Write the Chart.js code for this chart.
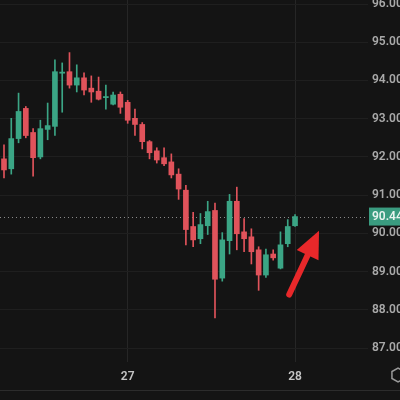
<!DOCTYPE html>
<html>
<head>
<meta charset="utf-8">
<script src="https://cdn.jsdelivr.net/npm/chart.js@4"></script>
<style>
  html, body { margin: 0; padding: 0; background: #141414; }
  #wrap { width: 400px; height: 400px; }
</style>
</head>
<body>
<div id="wrap"><canvas id="myChart" width="400" height="400"></canvas></div>
<script>
// Hourly candles, first one is cut off at the left edge
const startIndex = -1;
const openVals  = [92.08, 91.95, 91.69, 92.48, 93.27, 92.64, 92.00, 92.72, 92.80, 94.19, 94.23, 93.88, 94.07, 93.80, 93.72, 93.55, 93.38, 93.64, 93.43, 93.01, 92.85, 92.40, 92.16, 91.98, 91.87, 91.55, 91.13, 90.18, 89.86, 90.20, 90.60, 88.83, 89.81, 90.84, 90.04, 89.91, 89.57, 88.91, 89.46, 89.09, 89.73, 90.20];
const highVals  = [92.15, 92.32, 93.01, 93.67, 93.32, 92.74, 92.96, 93.41, 94.54, 94.46, 94.73, 94.41, 94.20, 94.12, 94.09, 93.88, 93.70, 93.70, 93.48, 93.25, 92.90, 92.43, 92.24, 92.24, 92.08, 91.69, 91.26, 90.55, 90.52, 90.84, 90.79, 90.02, 91.02, 91.21, 90.39, 90.12, 89.65, 89.59, 89.57, 90.04, 90.36, 90.49];
const lowVals   = [91.85, 91.45, 91.55, 92.37, 92.50, 91.50, 91.95, 92.45, 92.56, 93.17, 93.80, 93.70, 93.62, 93.43, 93.49, 93.25, 93.36, 93.14, 92.88, 92.56, 92.21, 91.95, 91.84, 91.77, 91.45, 90.89, 89.70, 89.65, 89.73, 89.97, 87.79, 88.75, 89.46, 89.57, 89.52, 89.20, 88.51, 88.85, 89.30, 89.07, 89.65, 90.18];
const closeVals = [91.90, 91.66, 92.48, 93.19, 92.56, 91.98, 92.74, 92.82, 94.23, 94.22, 93.88, 94.07, 93.75, 93.70, 93.51, 93.58, 93.62, 93.30, 92.96, 92.85, 92.40, 92.11, 91.92, 91.82, 91.53, 91.16, 90.10, 89.83, 90.23, 90.57, 88.80, 89.83, 90.84, 89.99, 89.86, 89.52, 88.91, 89.44, 89.36, 89.70, 90.18, 90.44];

// Day boundaries on the time axis
const dayTickIndex = [17, 40];
const dayTickLabels = ['27', '28'];
const priceTicks = [87, 88, 89, 90, 91, 92, 93, 94, 95, 96];

// Annotation arrow, in data units (candle index, price)
const arrowFrom = { x: 39.2, y: 88.40 };
const arrowTo = { x: 43.3, y: 90.07 };

const upColor = '#3ba585';
const downColor = '#e0535b';
const lastClose = closeVals[closeVals.length - 1];

const candleColors = openVals.map((o, i) => closeVals[i] >= o ? upColor : downColor);
const bodyData = openVals.map((o, i) => ({ x: startIndex + i, y: [o, closeVals[i]] }));
const wickData = openVals.map((o, i) => ({ x: startIndex + i, y: [lowVals[i], highVals[i]] }));

// Background, price line, price label, arrow and bottom border
const extrasPlugin = {
    id: 'extras',
    beforeDraw(chart) {
        const c = chart.ctx;
        c.save();
        c.fillStyle = '#141414';
        c.fillRect(0, 0, chart.width, chart.height);
        c.restore();
    },
    beforeDatasetsDraw(chart) {
        const c = chart.ctx;
        const area = chart.chartArea;
        const y = Math.round(chart.scales.y.getPixelForValue(lastClose)) + 0.5;
        c.save();
        c.strokeStyle = '#8a8a8a';
        c.lineWidth = 1;
        c.setLineDash([1, 3]);
        c.beginPath();
        c.moveTo(area.left, y);
        c.lineTo(area.right, y);
        c.stroke();
        c.restore();
    },
    afterDraw(chart) {
        const c = chart.ctx;
        const area = chart.chartArea;
        const xs = chart.scales.x;
        const ys = chart.scales.y;

        // last price label
        const y = ys.getPixelForValue(lastClose);
        c.save();
        c.fillStyle = '#3a9c80';
        c.fillRect(area.right + 1, y - 9, chart.width - area.right, 18);
        c.fillStyle = '#e8f3ef';
        c.font = '600 12px Roboto';
        c.textBaseline = 'middle';
        c.textAlign = 'left';
        c.fillText(lastClose.toFixed(2), area.right + 4, y + 0.5);

        // red arrow
        const x0 = xs.getPixelForValue(arrowFrom.x), y0 = ys.getPixelForValue(arrowFrom.y);
        const x1 = xs.getPixelForValue(arrowTo.x), y1 = ys.getPixelForValue(arrowTo.y);
        const ang = Math.atan2(y1 - y0, x1 - x0);
        const headLen = 27, headW = 12;
        const bx = x1 - headLen * Math.cos(ang), by = y1 - headLen * Math.sin(ang);
        c.strokeStyle = '#e8282a';
        c.fillStyle = '#e8282a';
        c.lineWidth = 6;
        c.lineCap = 'round';
        c.beginPath();
        c.moveTo(x0, y0);
        c.lineTo(bx, by);
        c.stroke();
        c.beginPath();
        c.moveTo(x1, y1);
        c.lineTo(bx + headW * Math.sin(ang), by - headW * Math.cos(ang));
        c.lineTo(bx - headW * Math.sin(ang), by + headW * Math.cos(ang));
        c.closePath();
        c.fill();

        // bottom border
        c.strokeStyle = '#2c2c2c';
        c.lineWidth = 1;
        c.beginPath();
        c.moveTo(0, 390.5);
        c.lineTo(chart.width, 390.5);
        c.stroke();

        // settings icon, cut at the edge
        c.strokeStyle = '#9a9a9a';
        c.lineWidth = 1.5;
        c.beginPath();
        for (let k = 0; k < 6; k++) {
            const a = Math.PI / 6 + k * Math.PI / 3;
            const px = 398 + 7 * Math.cos(a), py = 375 + 7 * Math.sin(a);
            if (k === 0) c.moveTo(px, py); else c.lineTo(px, py);
        }
        c.closePath();
        c.stroke();
        c.restore();
    }
};

const ctx = document.getElementById('myChart').getContext('2d');
new Chart(ctx, {
    type: 'bar',
    data: {
        datasets: [
            {
                label: 'wick',
                data: wickData,
                backgroundColor: candleColors,
                barThickness: 1,
                borderWidth: 0,
                borderSkipped: false,
                grouped: false,
                order: 2
            },
            {
                label: 'body',
                data: bodyData,
                backgroundColor: candleColors,
                barThickness: 5,
                minBarLength: 1,
                borderWidth: 0,
                borderSkipped: false,
                grouped: false,
                order: 1
            }
        ]
    },
    options: {
        responsive: false,
        animation: false,
        layout: { padding: 0 },
        scales: {
            x: {
                type: 'linear',
                offset: false,
                min: -0.55,
                max: 50.03,
                afterBuildTicks: axis => {
                    axis.ticks = dayTickIndex.map(v => ({ value: v }));
                },
                afterFit: axis => {
                    axis.height = 38;
                    axis.paddingLeft = 0;
                    axis.paddingRight = 0;
                },
                ticks: {
                    color: '#c4c4c4',
                    font: { family: 'Roboto', size: 12, weight: '600' },
                    padding: 8,
                    maxRotation: 0,
                    callback: v => dayTickLabels[dayTickIndex.indexOf(v)]
                },
                grid: {
                    color: '#262626',
                    offset: false,
                    drawTicks: false
                },
                border: { display: false }
            },
            y: {
                position: 'right',
                min: 86.635,
                max: 96.106,
                afterBuildTicks: axis => {
                    axis.ticks = priceTicks.map(v => ({ value: v }));
                },
                afterFit: axis => {
                    axis.width = 32;
                    axis.paddingTop = 0;
                    axis.paddingBottom = 0;
                },
                ticks: {
                    color: '#a9a9a9',
                    font: { family: 'Roboto', size: 12, weight: '600' },
                    padding: 4,
                    callback: v => v.toFixed(2)
                },
                grid: {
                    color: '#1f1f1f',
                    drawTicks: false
                },
                border: { display: false }
            }
        },
        plugins: {
            legend: { display: false },
            tooltip: { enabled: false }
        }
    },
    plugins: [extrasPlugin]
});
</script>
</body>
</html>
